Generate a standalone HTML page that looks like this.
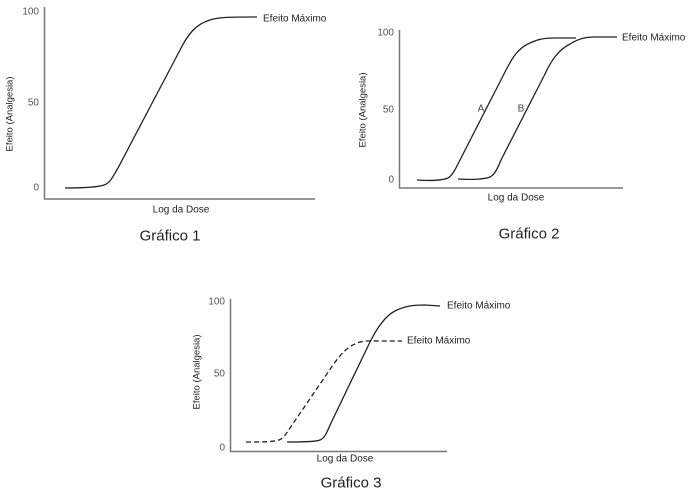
<!DOCTYPE html>
<html><head><meta charset="utf-8"><style>
html,body{margin:0;padding:0;background:#fff;}
svg{display:block;}
text{font-family:"Liberation Sans",Arial,sans-serif;}
</style></head><body>
<svg width="694" height="493" viewBox="0 0 694 493" xmlns="http://www.w3.org/2000/svg">
<rect width="694" height="493" fill="#fff"/>
<!-- Graph 1 -->
<g>
<path d="M44.5,7 V199 H315" fill="none" stroke="#777" stroke-width="1.5"/>
<g font-size="10" fill="#555" text-anchor="end" dominant-baseline="central">
<text x="39" y="12">100</text><text x="39" y="103">50</text><text x="39" y="188">0</text>
</g>
<text transform="translate(10,114) rotate(-90)" font-size="9.5" fill="#222" text-anchor="middle" dominant-baseline="central">Efeito (Analgesia)</text>
<text x="181" y="210" font-size="10" fill="#222" text-anchor="middle" dominant-baseline="central">Log da Dose</text>
<text x="170" y="236" font-size="15" fill="#222" text-anchor="middle" dominant-baseline="central">Gráfico 1</text>
<path d="M65,188 C85,188 98,187 104,185 C110,183 112,178 118,168 L180,50 C188,34 196,24 210,20 C220,17 228,17 257,17" fill="none" stroke="#222" stroke-width="1.3"/>
<text x="263" y="19" font-size="10" fill="#222" dominant-baseline="central">Efeito Máximo</text>
</g>
<!-- Graph 2 -->
<g>
<path d="M399.5,30 V188 H623" fill="none" stroke="#777" stroke-width="1.5"/>
<g font-size="10" fill="#555" text-anchor="end" dominant-baseline="central">
<text x="394" y="33">100</text><text x="394" y="110">50</text><text x="394" y="180">0</text>
</g>
<text transform="translate(363,110) rotate(-90)" font-size="9.5" fill="#222" text-anchor="middle" dominant-baseline="central">Efeito (Analgesia)</text>
<text x="516" y="198" font-size="10" fill="#222" text-anchor="middle" dominant-baseline="central">Log da Dose</text>
<text x="529" y="234" font-size="15" fill="#222" text-anchor="middle" dominant-baseline="central">Gráfico 2</text>
<path d="M417,180 C432,181 443,180 448,178 C452,176 455,170 460,160 L505,72 C512,58 518,48 530,43 C538,39 545,38 555,38 L576,38" fill="none" stroke="#222" stroke-width="1.3"/>
<path d="M458,179 C473,180 485,179 490,177 C494,175 497,170 501,160 L545,74 C551,61 558,50 570,44 C578,39 585,37 595,37 L617,37" fill="none" stroke="#222" stroke-width="1.3"/>
<text x="481" y="109" font-size="10" fill="#444" text-anchor="middle" dominant-baseline="central">A</text>
<text x="521" y="109" font-size="10" fill="#444" text-anchor="middle" dominant-baseline="central">B</text>
<text x="622" y="38" font-size="10" fill="#222" dominant-baseline="central">Efeito Máximo</text>
</g>
<!-- Graph 3 -->
<g>
<path d="M230.5,299 V451.5 H447" fill="none" stroke="#777" stroke-width="1.5"/>
<g font-size="10" fill="#555" text-anchor="end" dominant-baseline="central">
<text x="225" y="302">100</text><text x="225" y="374">50</text><text x="225" y="448">0</text>
</g>
<text transform="translate(197,372) rotate(-90)" font-size="9.5" fill="#222" text-anchor="middle" dominant-baseline="central">Efeito (Analgesia)</text>
<text x="345" y="459" font-size="10" fill="#222" text-anchor="middle" dominant-baseline="central">Log da Dose</text>
<text x="351" y="483" font-size="15" fill="#222" text-anchor="middle" dominant-baseline="central">Gráfico 3</text>
<path d="M287,442 C300,442 315,442 320,440 C325,438 327,432 331,423 L370,342 C377,328 385,316 395,311 C405,306 413,305 425,305 L440,306" fill="none" stroke="#222" stroke-width="1.3"/>
<path d="M246,442 C260,442 273,442 279,440 C284,438 286,434 290,428 L333,365 C340,355 347,347 357,343 C365,340 372,341 380,341 L402,341" fill="none" stroke="#222" stroke-width="1.3" stroke-dasharray="5,3"/>
<text x="447" y="306" font-size="10" fill="#222" dominant-baseline="central">Efeito Máximo</text>
<text x="407" y="341" font-size="10" fill="#222" dominant-baseline="central">Efeito Máximo</text>
</g>
</svg>
</body></html>
